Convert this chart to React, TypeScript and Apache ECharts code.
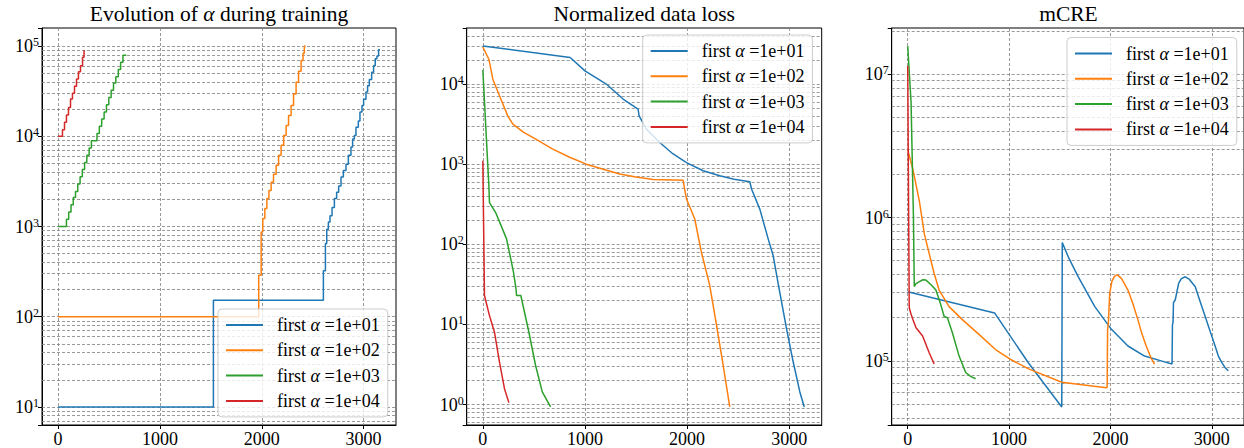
import React, { useEffect, useRef } from "react";
import * as echarts from "echarts";

// ---------- data ----------
const SERIES_NAMES = ["first α =1e+01", "first α =1e+02", "first α =1e+03", "first α =1e+04"];
const COLORS = ["#1f77b4", "#ff7f0e", "#2ca02c", "#d62728"];
const X_TICKS = [0, 1000, 2000, 3000];
const X_RANGE = [-158, 3318];
const Y_RANGES = [
  [6.31, 158500],
  [0.557, 50000],
  [35700, 21000000],
];

// Panel 1: Evolution of alpha (piecewise-constant)
const ALPHA_1E1 = [[0, 10], [1525, 152], [2605, 324], [2625, 646], [2638, 933], [2654, 1122], [2670, 1318], [2690, 1622], [2713, 2042], [2735, 2399], [2755, 2818], [2778, 3548], [2801, 4169], [2827, 4898], [2850, 6166], [2876, 7586], [2892, 9333], [2909, 10230], [2925, 12600], [2948, 14800], [2964, 18600], [2984, 21900], [3000, 25700], [3023, 30900], [3039, 36300], [3056, 42700], [3079, 51300], [3098, 60300], [3114, 72400], [3131, 77600], [3147, 91200], [3160, 91200]];
const ALPHA_1E2 = [[0, 100], [1970, 288], [1994, 871], [2010, 1230], [2030, 1585], [2050, 2042], [2070, 2512], [2092, 3090], [2115, 3802], [2141, 4786], [2165, 6166], [2190, 7943], [2215, 10200], [2239, 13200], [2263, 17000], [2288, 21900], [2312, 29500], [2337, 39800], [2361, 52500], [2386, 69200], [2405, 83200], [2418, 100000], [2430, 100000]];
const ALPHA_1E3 = [[0, 1000], [82, 1200], [104, 1450], [127, 1740], [149, 2090], [171, 2450], [193, 2950], [216, 3550], [238, 4270], [260, 5130], [282, 6170], [305, 7410], [327, 8930], [382, 10700], [405, 12900], [428, 15500], [452, 18600], [475, 22400], [498, 26900], [521, 32400], [544, 38900], [567, 45700], [591, 55000], [614, 66000], [637, 79000], [670, 79000]];
const ALPHA_1E4 = [[0, 10000], [43, 11800], [63, 14300], [82, 17200], [102, 20900], [122, 25900], [141, 29900], [161, 35800], [181, 43100], [200, 52000], [220, 60600], [240, 75000], [255, 88700], [262, 88700]];

// Panel 2: Normalized data loss
const LOSS_1E1 = [[0, 29800], [855, 21400], [1000, 14600], [1209, 10000], [1373, 6500], [1520, 4850], [1530, 4000], [1602, 2735], [1732, 1862], [1860, 1350], [1994, 1047], [2157, 828], [2320, 718], [2460, 650], [2614, 603], [2631, 490], [2712, 275], [2794, 117], [2843, 72], [2908, 25], [2974, 8.8], [3039, 3.4], [3104, 1.44], [3147, 0.935]];
const LOSS_1E2 = [[0, 29000], [59, 20400], [98, 11500], [164, 7080], [245, 3980], [294, 3160], [400, 2500], [523, 2040], [680, 1550], [850, 1220], [1013, 1000], [1170, 870], [1340, 753], [1500, 690], [1667, 646], [1961, 630], [1994, 367], [2075, 207], [2141, 79], [2222, 30.6], [2288, 9.8], [2353, 3.1], [2418, 0.935]];
const LOSS_1E3 = [[0, 15000], [59, 537], [65, 331], [124, 251], [180, 170], [232, 117], [280, 60], [300, 45], [326, 27], [330, 23], [372, 23], [451, 8.0], [516, 3.1], [582, 1.44], [663, 0.935]];
const LOSS_1E4 = [[0, 1100], [16, 23], [65, 12.9], [114, 8.0], [163, 3.4], [212, 1.58], [255, 1.06]];

// Panel 3: mCRE
const MCRE_1E1 = [[0, 304000], [857, 216000], [1190, 97000], [1520, 47700], [1525, 670000], [1585, 530000], [1683, 386000], [1846, 239000], [2010, 166000], [2173, 127000], [2337, 108000], [2500, 100000], [2608, 95000], [2612, 179000], [2618, 185000], [2622, 255000], [2640, 267000], [2673, 347000], [2700, 375000], [2739, 386000], [2780, 370000], [2837, 329000], [2885, 260000], [2935, 204000], [2985, 160000], [3033, 127000], [3065, 108000], [3098, 97500], [3130, 90000], [3163, 85300]];
const MCRE_1E2 = [[0, 2970000], [49, 2200000], [115, 1300000], [164, 770000], [212, 560000], [261, 407000], [310, 312000], [408, 239000], [539, 194000], [703, 153000], [866, 120000], [1030, 101000], [1193, 88000], [1520, 71000], [1961, 65000], [1968, 66000], [1972, 166000], [1980, 185000], [1993, 297000], [2015, 360000], [2042, 390000], [2070, 398000], [2110, 375000], [2173, 312000], [2222, 250000], [2271, 194000], [2310, 155000], [2353, 127000], [2400, 105000], [2435, 95000]];
const MCRE_1E3 = [[0, 15700000], [33, 6400000], [56, 1050000], [65, 330000], [80, 345000], [115, 357000], [150, 368000], [180, 366000], [230, 340000], [278, 312000], [320, 255000], [360, 204000], [392, 200000], [441, 157000], [507, 108000], [572, 83000], [620, 78000], [670, 75000]];
const MCRE_1E4 = [[0, 11400000], [15, 235000], [30, 215000], [50, 195000], [82, 170000], [147, 149000], [180, 130000], [212, 114000], [261, 95000]];

const PANEL_DATA = [
  [ALPHA_1E1, ALPHA_1E2, ALPHA_1E3, ALPHA_1E4],
  [LOSS_1E1, LOSS_1E2, LOSS_1E3, LOSS_1E4],
  [MCRE_1E1, MCRE_1E2, MCRE_1E3, MCRE_1E4],
];

// ---------- layout ----------
const FONT = "Liberation Serif";
const GRIDS = [
  { left: 42, top: 28, width: 354, height: 398 },
  { left: 466.7, top: 28, width: 355, height: 398 },
  { left: 891.7, top: 28, width: 353.5, height: 398 },
];
const LEGEND_POS = [
  { left: 218, top: 309 },
  { left: 642.7, top: 35 },
  { left: 1067, top: 37.5 },
];
const TITLE_RICH = [
  "{n|Evolution of }{i|α}{n| during training}",
  "{n|Normalized data loss}",
  "{n|mCRE}",
];

function gridValues(min: number, max: number) {
  const out: number[] = [];
  const e0 = Math.floor(Math.log10(min));
  const e1 = Math.ceil(Math.log10(max));
  for (let e = e0; e <= e1; e++) {
    for (let k = 1; k <= 9; k++) {
      const v = k * Math.pow(10, e);
      if (v > min && v < max) out.push(v);
    }
  }
  return out;
}

const GRID_LINE = { color: "#808080", width: 0.8, type: [3, 2] as any };

export default function App() {
  const ref = useRef<HTMLDivElement>(null);
  useEffect(() => {
    if (!ref.current) return;
    const chart = echarts.init(ref.current, undefined, { renderer: "svg" });

    const series: any[] = [];
    PANEL_DATA.forEach((lines, p) => {
      series.push({
        type: "line",
        name: "__grid" + p,
        data: [],
        xAxisIndex: p,
        yAxisIndex: p,
        silent: true,
        z: 1,
        markLine: {
          silent: true,
          symbol: "none",
          animation: false,
          label: { show: false },
          lineStyle: GRID_LINE,
          z: 1,
          data: gridValues(Y_RANGES[p][0], Y_RANGES[p][1]).map((v) => ({ yAxis: v })),
        },
      });
      lines.forEach((d, i) => {
        series.push({
          type: "line",
          name: SERIES_NAMES[i],
          data: d,
          xAxisIndex: p,
          yAxisIndex: p,
          symbol: "none",
          showSymbol: false,
          step: p === 0 ? "end" : false,
          lineStyle: { width: 1.5, color: COLORS[i] },
          itemStyle: { color: COLORS[i] },
          z: 3,
        });
      });
    });

    const option: any = {
      animation: false,
      title: GRIDS.map((g, p) => ({
        text: TITLE_RICH[p],
        left: g.left + g.width / 2,
        top: 3,
        textAlign: "center",
        padding: 0,
        textStyle: {
          fontWeight: "normal",
          rich: {
            n: { fontFamily: FONT, fontSize: 21.5, fontWeight: "normal", color: "#000" },
            i: { fontFamily: FONT, fontSize: 21.5, fontWeight: "normal", fontStyle: "italic", color: "#000" },
          },
        },
      })),
      legend: LEGEND_POS.map((pos) => ({
        data: SERIES_NAMES,
        orient: "vertical",
        left: pos.left,
        top: pos.top,
        itemWidth: 37,
        itemHeight: 18,
        itemGap: 7.3,
        padding: [7, 8, 7, 7],
        backgroundColor: "rgba(255,255,255,0.8)",
        borderColor: "#cccccc",
        borderWidth: 1,
        borderRadius: 4,
        selectedMode: false,
        itemStyle: { opacity: 0 },
        formatter: (name: string) => {
          const parts = name.split("α");
          return `{f|${parts[0]}}{i|α}{n|${parts[1]}}`;
        },
        textStyle: {
          rich: {
            f: { fontFamily: FONT, fontSize: 18, color: "#000", padding: [0, 0, 0, 9] },
            n: { fontFamily: FONT, fontSize: 18, color: "#000" },
            i: { fontFamily: FONT, fontSize: 18, fontStyle: "italic", color: "#000" },
          },
        },
      })),
      grid: GRIDS.map((g) => ({
        ...g,
        show: true,
        borderColor: "#000",
        borderWidth: 1,
        backgroundColor: "transparent",
        containLabel: false,
      })),
      xAxis: GRIDS.map((_, p) => ({
        type: "value",
        gridIndex: p,
        min: X_RANGE[0],
        max: X_RANGE[1],
        splitNumber: 3,
        axisLine: { show: true, onZero: false, lineStyle: { color: "#000", width: 1 } },
        axisTick: { show: true, length: 4, lineStyle: { color: "#000" } },
        axisLabel: {
          show: true,
          margin: 5,
          showMinLabel: false,
          showMaxLabel: false,
          fontFamily: FONT,
          fontSize: 18,
          color: "#000",
          formatter: (v: number) => (X_TICKS.indexOf(v) >= 0 ? String(v) : ""),
        },
        splitLine: { show: true, showMinLine: false, showMaxLine: false, lineStyle: GRID_LINE },
      })),
      yAxis: GRIDS.map((_, p) => ({
        type: "log",
        logBase: 10,
        gridIndex: p,
        min: Y_RANGES[p][0],
        max: Y_RANGES[p][1],
        axisLine: { show: true, onZero: false, lineStyle: { color: "#000", width: 1 } },
        axisTick: { show: true, length: 4, lineStyle: { color: "#000" } },
        splitLine: { show: false },
        axisLabel: {
          show: true,
          margin: 3,
          formatter: (v: number) => {
            const l = Math.log10(v);
            const e = Math.round(l);
            return Math.abs(l - e) < 1e-6 ? `{b|10}{s|${e}}` : "";
          },
          rich: {
            b: { fontFamily: FONT, fontSize: 18, lineHeight: 20, color: "#000" },
            s: { fontFamily: FONT, fontSize: 12, lineHeight: 12, verticalAlign: "top", color: "#000" },
          },
        },
      })),
      series,
    };
    chart.setOption(option);
    return () => chart.dispose();
  }, []);
  return (
    <div
      ref={ref}
      style={{ position: "absolute", left: 0, top: 0, width: 1244, height: 448, background: "#fff" }}
    />
  );
}
